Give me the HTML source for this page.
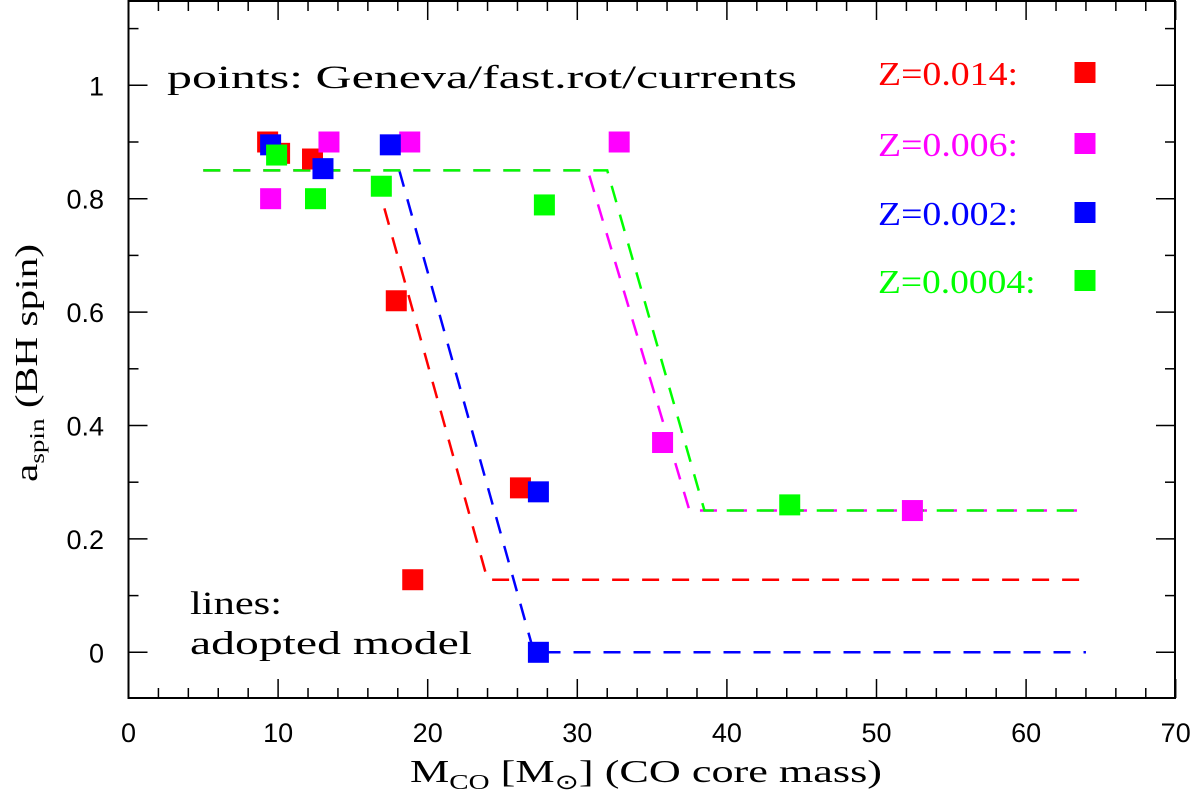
<!DOCTYPE html>
<html><head><meta charset="utf-8"><style>
html,body{margin:0;padding:0;background:#fff;}
svg{display:block;}
.tk{font-family:"Liberation Sans",sans-serif;font-size:27px;fill:#000;}
.sf{font-family:"Liberation Serif",serif;fill:#000;}
</style></head><body>
<svg id="chart" width="1200" height="802" viewBox="0 0 1200 802" xmlns="http://www.w3.org/2000/svg">
<g id="axes"></g>
<g id="lines"></g>
<g id="points"></g>
<text class="sf" x="167" y="88" font-size="33" textLength="630" lengthAdjust="spacingAndGlyphs">points: Geneva/fast.rot/currents</text>
<text class="sf" x="190" y="614" font-size="33" textLength="92" lengthAdjust="spacingAndGlyphs">lines:</text>
<text class="sf" x="190" y="654" font-size="33" textLength="282" lengthAdjust="spacingAndGlyphs">adopted model</text>
<text class="sf" x="410" y="782" font-size="32" textLength="472" lengthAdjust="spacingAndGlyphs">M<tspan font-size="21" dy="7">CO</tspan><tspan dy="-7"> [M</tspan><tspan font-size="21" dy="7">⊙</tspan><tspan dy="-7">] (CO core mass)</tspan></text>
<text class="sf" transform="translate(37,482) rotate(-90)" font-size="32" textLength="238" lengthAdjust="spacingAndGlyphs">a<tspan font-size="21" dy="7">spin</tspan><tspan dy="-7"> (BH spin)</tspan></text>
<g id="legend"></g>
</svg>
<script>
const seriesNames = ["Z=0.014:", "Z=0.006:", "Z=0.002:", "Z=0.0004:"];
const seriesColors = ["#ff0000", "#ff00ff", "#0000ff", "#00ff00"];
const redX = [9.3, 10.1, 12.3, 17.9, 19.0, 26.2];
const redY = [0.90, 0.88, 0.87, 0.62, 0.128, 0.29];
const magX = [9.5, 13.4, 18.8, 32.8, 35.7, 52.4];
const magY = [0.80, 0.90, 0.90, 0.90, 0.37, 0.25];
const blueX = [9.5, 13.0, 17.5, 27.4, 27.4];
const blueY = [0.895, 0.853, 0.895, 0.283, 0.0];
const greenX = [9.9, 12.5, 16.9, 27.8, 44.2];
const greenY = [0.877, 0.80, 0.822, 0.789, 0.26];
const redLineX = [5, 16.4, 24.0, 64];
const redLineY = [0.85, 0.85, 0.128, 0.128];
const blueLineX = [18.1, 27.1, 64];
const blueLineY = [0.85, 0.0, 0.0];
const magLineX = [5, 30.7, 37.5, 64];
const magLineY = [0.85, 0.85, 0.25, 0.25];
const greenLineX = [5, 32.0, 38.5, 64];
const greenLineY = [0.85, 0.85, 0.25, 0.25];
const xTicks = [0, 10, 20, 30, 40, 50, 60, 70];
const yTicks = [0, 0.2, 0.4, 0.6, 0.8, 1];
const yTickLabels = ["0", "0.2", "0.4", "0.6", "0.8", "1"];

const NS = "http://www.w3.org/2000/svg";
const L = 128.5, R = 1175, T = 1, B = 698;
function sx(v){ return L + v * 14.96; }
function sy(v){ return 652.3 - v * 567; }
function mk(tag, attrs, parent){
  const e = document.createElementNS(NS, tag);
  for (const k in attrs) e.setAttribute(k, attrs[k]);
  parent.appendChild(e);
  return e;
}
const axes = document.getElementById('axes');
const frame = mk('rect', {x:L, y:T, width:R-L, height:B-T, fill:'none', stroke:'#000', 'stroke-width':2}, axes);


for (let v = 0; v <= 70; v += 2) {
  const major = v % 10 === 0, len = major ? 19 : 10, x = sx(v);
  const t1 = mk('line', {x1:x, x2:x, y1:B, y2:B-len, stroke:'#000', 'stroke-width':1.5}, axes);
  
  
  const t2 = mk('line', {x1:x, x2:x, y1:T, y2:T+len, stroke:'#000', 'stroke-width':1.5}, axes);
  
  
}
for (let i = 0; i <= 11; i++) {
  const v = i / 10, major = i % 2 === 0, len = major ? 19 : 10, y = sy(v);
  const t1 = mk('line', {x1:L, x2:L+len, y1:y, y2:y, stroke:'#000', 'stroke-width':1.5}, axes);
  
  
  const t2 = mk('line', {x1:R, x2:R-len, y1:y, y2:y, stroke:'#000', 'stroke-width':1.5}, axes);
  
  
}
xTicks.forEach(v => {
  const t = mk('text', {x:sx(v), y:742, 'text-anchor':'middle', class:'tk'}, axes);
  
  
  t.textContent = String(v);
});
yTicks.forEach((v, i) => {
  const t = mk('text', {x:104, y:sy(v)+10, 'text-anchor':'end', class:'tk'}, axes);
  
  
  t.textContent = yTickLabels[i];
});
const lineG = document.getElementById('lines');
const lineSets = [[redLineX, redLineY, 0], [blueLineX, blueLineY, 2], [magLineX, magLineY, 1], [greenLineX, greenLineY, 3]];
lineSets.forEach(([xs, ys, c]) => {
  const p = mk('polyline', {points: xs.map((x, i) => sx(x) + ',' + sy(ys[i])).join(' '), fill:'none', stroke:seriesColors[c], 'stroke-width':2.5, 'stroke-dasharray':'17 13'}, lineG);
  
  
});
const ptG = document.getElementById('points');
const ptSets = [[redX, redY, 0], [magX, magY, 1], [blueX, blueY, 2], [greenX, greenY, 3]];
ptSets.forEach(([xs, ys, c]) => {
  xs.forEach((x, i) => {
    const r = mk('rect', {x:sx(x)-10.5, y:sy(ys[i])-10.5, width:21, height:21, fill:seriesColors[c]}, ptG);
    
    
  });
});
const leg = document.getElementById('legend');
const legY = [85, 156, 225, 293];
seriesNames.forEach((n, i) => {
  const t = mk('text', {x:878, y:legY[i], class:'sf', 'font-size':34, fill:seriesColors[i], textLength: n.length * 17.5, lengthAdjust:'spacingAndGlyphs'}, leg);
  
  
  t.style.fill = seriesColors[i];
  t.textContent = n;
  const r = mk('rect', {x:1074.5, y:legY[i]-23, width:21, height:21, fill:seriesColors[i]}, leg);
  
  
});
</script>
</body></html>
